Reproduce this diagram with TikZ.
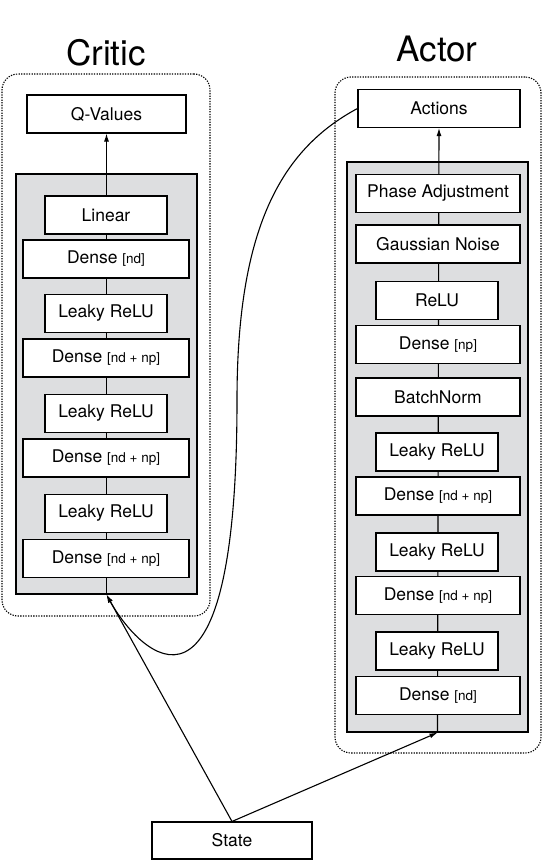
\documentclass[tikz,border=0pt]{standalone}
\usepackage{fontspec}
\setmainfont{TeX Gyre Heros}
\usetikzlibrary{arrows.meta}
\usetikzlibrary{calc}

\definecolor{panelgray}{RGB}{221,222,224}
\newcommand{\units}[1]{{\fontsize{13.5}{15}\selectfont[#1]}}

\begin{document}
\begin{tikzpicture}[x=1pt,y=-1pt,
    every node/.style={font=\fontsize{17.5}{20}\selectfont},
    box/.style={draw,fill=white,line width=1.1pt,minimum height=38pt,inner sep=0pt},
    wide/.style={box,minimum width=166pt},
    narrow/.style={box,minimum width=122pt},
    panel/.style={draw,fill=panelgray,line width=1.3pt,inner sep=0pt},
    group/.style={draw,line width=1.1pt,dash pattern=on 1.3pt off 1.3pt,rounded corners=16pt,inner sep=0pt},
    title/.style={anchor=base,font=\fontsize{35}{40}\selectfont},
    flow/.style={line width=1.1pt,-{Latex[length=8pt,width=5pt]}}]
    \useasboundingbox (0,0) rectangle (542,862);

    % critic
    \node[group,minimum width=208pt,minimum height=542pt] (critic) at (106,345) {};
    \node[title] (crittitle) at (106,65) {Critic};
    \node[box,minimum width=159pt] (qvals) at (106.5,114) {Q-Values};
    \node[panel,minimum width=181pt,minimum height=420pt] (cpanel) at (106.5,384) {};
    \draw[flow] (cpanel.south) -- (qvals.south);
    \node[narrow] (clin) at (106,215) {Linear};
    \node[wide] (cd1) at (106,259) {Dense \units{nd}};
    \node[narrow] (cr1) at (106,313.5) {Leaky ReLU};
    \node[wide] (cd2) at (106,358) {Dense \units{nd + np}};
    \node[narrow] (cr2) at (106,413.5) {Leaky ReLU};
    \node[wide] (cd3) at (106,458) {Dense \units{nd + np}};
    \node[narrow] (cr3) at (106,513.5) {Leaky ReLU};
    \node[wide] (cd4) at (106,558.5) {Dense \units{nd + np}};

    % actor
    \node[group,minimum width=206pt,minimum height=676pt] (actor) at (438,415) {};
    \node[title] (acttitle) at (437,61) {Actor};
    \node[box,minimum width=162pt] (acts) at (439,108.5) {Actions};
    \node[panel,minimum width=181pt,minimum height=570pt] (apanel) at (437.5,447) {};
    \draw[flow] (apanel.south) -- (acts.south);
    \node[box,minimum width=164pt] (aphase) at (438,193.5) {Phase Adjustment};
    \node[box,minimum width=164pt] (anoise) at (438,244) {Gaussian Noise};
    \node[narrow] (arelu) at (437,300.5) {ReLU};
    \node[box,minimum width=164pt] (ad1) at (438,344.5) {Dense \units{np}};
    \node[box,minimum width=164pt] (abn) at (438,397) {BatchNorm};
    \node[narrow] (ar1) at (437,452) {Leaky ReLU};
    \node[box,minimum width=164pt] (ad2) at (438,496) {Dense \units{nd + np}};
    \node[narrow] (ar2) at (437,552) {Leaky ReLU};
    \node[box,minimum width=164pt] (ad3) at (438,595.5) {Dense \units{nd + np}};
    \node[narrow] (ar3) at (437,651) {Leaky ReLU};
    \node[box,minimum width=164pt] (ad4) at (438,695.5) {Dense \units{nd}};

    % input
    \node[box,minimum width=160pt,minimum height=37pt] (state) at (232,840.5) {State};
    \draw[flow] (state.north) -- (cpanel.south);
    \draw[flow] (state.north) -- (apanel.south);
    \draw[flow] (acts.west) .. controls (280,150) and (237,230) .. (237,400)
        .. controls (237,750) and (140,655) .. (cpanel.south);
\end{tikzpicture}
\end{document}
